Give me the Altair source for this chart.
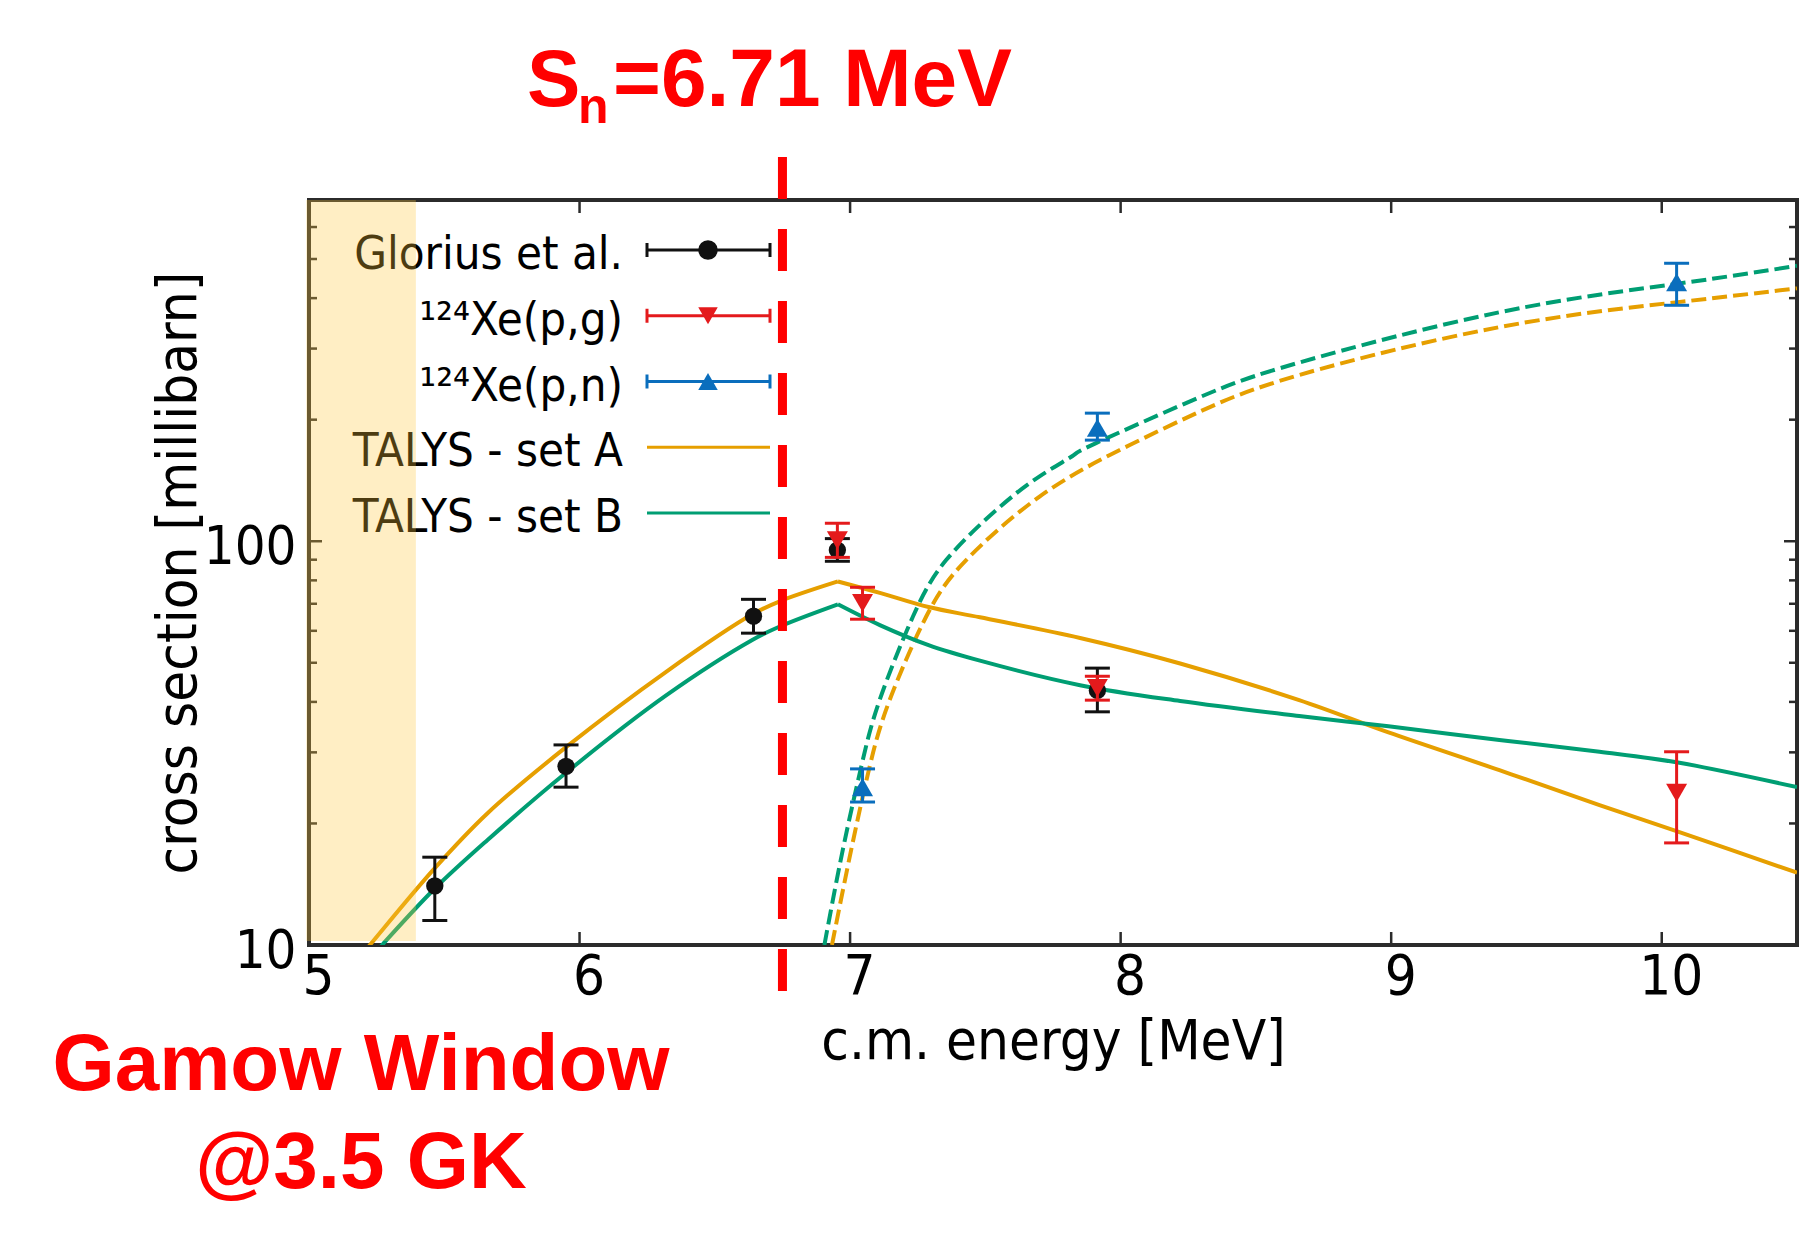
import altair as alt
import pandas as pd

# ---------------- data ----------------
# Glorius et al.
glorius_E = [5.465, 5.95, 6.643, 6.953, 7.914]
glorius_xs = [14.0, 27.7, 65.2, 95.1, 42.7]
glorius_lo = [11.5, 24.6, 59.2, 89.2, 37.8]
glorius_hi = [16.5, 31.3, 71.8, 101.5, 48.5]

# 124Xe(p,g)
pg_E = [6.953, 7.046, 7.914, 10.055]
pg_xs = [100.5, 70.3, 43.3, 23.8]
pg_lo = [91.2, 64.1, 40.4, 17.9]
pg_hi = [110.8, 76.9, 46.3, 30.1]

# 124Xe(p,n)
pn_E = [7.046, 7.914, 10.055]
pn_xs = [24.6, 191.0, 438.0]
pn_lo = [22.6, 178.0, 384.0]
pn_hi = [27.3, 207.6, 488.0]

# TALYS set A, (p,g) solid
setA_pg_E = [5.15, 5.225, 5.465, 5.66, 5.95, 6.32, 6.64, 6.74, 6.955, 7.11, 7.29, 7.48,
             7.85, 8.22, 8.66, 8.99, 9.40, 9.77, 10.06, 10.5]
setA_pg_xs = [8.7, 10.0, 15.5, 21.2, 30.9, 47.5, 66.0, 71.0, 79.5, 74.5, 68.7, 64.8,
              57.6, 49.8, 40.4, 33.6, 27.1, 22.2, 19.1, 15.1]
# TALYS set B, (p,g) solid
setB_pg_E = [5.19, 5.27, 5.465, 5.66, 5.95, 6.32, 6.64, 6.74, 6.955, 7.11, 7.29, 7.48,
             7.85, 8.22, 8.66, 8.99, 9.40, 9.77, 10.06, 10.5]
setB_pg_xs = [8.7, 10.0, 13.8, 18.2, 26.7, 41.5, 57.0, 61.5, 69.8, 62.0, 55.3, 50.6,
              44.0, 40.2, 36.9, 34.8, 32.2, 30.1, 28.3, 24.6]
# TALYS set A, (p,n) dashed
setA_pn_E = [6.933, 7.004, 7.072, 7.146, 7.281, 7.429, 7.699, 7.995, 8.29, 8.66, 9.40, 10.06, 10.5]
setA_pn_xs = [10.0, 17.2, 27.6, 40.4, 65.0, 89.8, 128.8, 168.0, 209.0, 258.0, 339.0, 391.0, 423.0]
# TALYS set B, (p,n) dashed
setB_pn_E = [6.905, 6.973, 7.041, 7.109, 7.232, 7.355, 7.54, 7.699, 7.822, 7.909, 8.29, 8.66,
             9.40, 10.06, 10.5]
setB_pn_xs = [10.0, 17.2, 27.6, 40.4, 65.0, 89.8, 119.4, 144.6, 162.6, 175.0, 227.0, 277.0,
              369.0, 434.5, 481.0]

# axis ticks
x_ticks = [5, 6, 7, 8, 9, 10]
y_major = [10, 100]
y_minor = [20, 30, 40, 50, 60, 70, 80, 90, 200, 300, 400, 500, 600]

# Gamow window and S_n marker
gamow_E = [4.99]
gamow_E2 = [5.395]
sn_line_E = [6.75]

legend_labels = ["Glorius et al.", "\u00b9\u00b2\u2074Xe(p,g)", "\u00b9\u00b2\u2074Xe(p,n)",
                 "TALYS - set A", "TALYS - set B"]
sn_parts = ["S", "n", "=6.71 MeV"]
gamow_lines = ["Gamow Window", "@3.5 GK"]

# ---------------- styling ----------------
W, H = 1488, 745
FONT = "DejaVu Sans Condensed, DejaVu Sans"
RED_FONT = "Liberation Sans, Arial, sans-serif"
ORANGE = "#E69F00"
GREEN = "#009E73"
RED = "#E41A1C"
BLUE = "#0A6EBD"
BLACK = "#111111"
FRAME = "#2b2b2b"
ANNOT = "#FF0000"

xscale = alt.Scale(domain=[5, 10.5], nice=False, zero=False)
yscale = alt.Scale(type="log", domain=[10, 700], nice=False)

xaxis = alt.Axis(values=x_ticks, format="d", ticks=False, domain=False, grid=False,
                 labelFont=FONT, labelFontSize=56, labelColor="black", labelPadding=4,
                 labelOffset=9, labelFlush=False,
                 title="c.m. energy [MeV]", titleFont=FONT, titleFontSize=56,
                 titleFontWeight="normal", titleColor="black", titleX=W / 2, titleY=113,
                 titleAlign="center", titleBaseline="alphabetic")
yaxis = alt.Axis(values=y_major, format="d", ticks=False, domain=False, grid=False,
                 labelFont=FONT, labelFontSize=54, labelColor="black", labelPadding=13,
                 labelOffset=6, labelFlush=False,
                 title="cross section [millibarn]", titleFont=FONT, titleFontSize=56,
                 titleFontWeight="normal", titleColor="black", titleX=-114, titleY=H / 2,
                 titleAngle=270, titleAlign="center", titleBaseline="alphabetic")


def X(field="E"):
    return alt.X(f"{field}:Q", scale=xscale, axis=xaxis)


def Y(field="xs"):
    return alt.Y(f"{field}:Q", scale=yscale, axis=yaxis)


layers = []

# inward ticks on all four sides
xt = pd.DataFrame({"E": x_ticks})
for y0, y1 in [(H, H - 13), (0, 13)]:
    layers.append(alt.Chart(xt).mark_rule(color=FRAME, strokeWidth=2.5)
                  .encode(x=X(), y=alt.value(y0), y2=alt.value(y1)))
for vals, L in [(y_major, 13), (y_minor, 8)]:
    df = pd.DataFrame({"xs": vals})
    layers.append(alt.Chart(df).mark_rule(color=FRAME, strokeWidth=2.5)
                  .encode(y=Y(), x=alt.value(0), x2=alt.value(L)))
    layers.append(alt.Chart(df).mark_rule(color=FRAME, strokeWidth=2.5)
                  .encode(y=Y(), x=alt.value(W), x2=alt.value(W - L)))


def curve(E, xs, color, dash=None, interp="catmull-rom"):
    df = pd.DataFrame({"E": E, "xs": xs})
    kw = dict(color=color, strokeWidth=4, interpolate=interp, clip=True)
    if dash:
        kw["strokeDash"] = dash
    return alt.Chart(df).mark_line(**kw).encode(x=X(), y=Y())


def peaked_curve(E, xs, color):
    # the (p,g) curves have a sharp maximum: draw rise and fall as two smooth pieces
    k = xs.index(max(xs))
    return [curve(E[:k + 1], xs[:k + 1], color), curve(E[k:], xs[k:], color)]


layers.append(curve(setA_pn_E, setA_pn_xs, ORANGE, [15, 6], "natural"))
layers.append(curve(setB_pn_E, setB_pn_xs, GREEN, [15, 6], "natural"))
layers += peaked_curve(setA_pg_E, setA_pg_xs, ORANGE)
layers += peaked_curve(setB_pg_E, setB_pg_xs, GREEN)


def errpoints(E, xs, lo, hi, color, shape, size):
    df = pd.DataFrame({"E": E, "xs": xs, "lo": lo, "hi": hi})
    base = alt.Chart(df)
    out = [
        base.mark_rule(color=color, strokeWidth=3).encode(x=X(), y=Y("lo"), y2="hi:Q"),
        base.mark_tick(color=color, orient="horizontal", size=25, thickness=3, opacity=1)
            .encode(x=X(), y=Y("lo")),
        base.mark_tick(color=color, orient="horizontal", size=25, thickness=3, opacity=1)
            .encode(x=X(), y=Y("hi")),
        base.mark_point(shape=shape, filled=True, size=size, color=color, opacity=1)
            .encode(x=X(), y=Y()),
    ]
    return out


layers += errpoints(glorius_E, glorius_xs, glorius_lo, glorius_hi, BLACK, "circle", 300)
layers += errpoints(pg_E, pg_xs, pg_lo, pg_hi, RED, "triangle-down", 440)
layers += errpoints(pn_E, pn_xs, pn_lo, pn_hi, BLUE, "triangle-up", 440)

# legend (drawn as marks, top-left inside the plot)
leg_colors = [BLACK, RED, BLUE, ORANGE, GREEN]
leg_shapes = ["circle", "triangle-down", "triangle-up", None, None]
LEG_TEXT_X, LEG_L, LEG_R, LEG_M = 314, 338, 461, 399
for i, lab in enumerate(legend_labels):
    cy = 50 + 65.75 * i
    d = pd.DataFrame({"label": [lab]})
    layers.append(alt.Chart(d).mark_text(align="right", baseline="alphabetic", font=FONT,
                                         fontSize=47, color="black")
                  .encode(x=alt.value(LEG_TEXT_X), y=alt.value(cy + 19), text="label:N"))
    layers.append(alt.Chart(d).mark_rule(color=leg_colors[i], strokeWidth=3)
                  .encode(x=alt.value(LEG_L), x2=alt.value(LEG_R), y=alt.value(cy), y2=alt.value(cy)))
    if leg_shapes[i]:
        for xx in (LEG_L, LEG_R):
            layers.append(alt.Chart(d).mark_rule(color=leg_colors[i], strokeWidth=3)
                          .encode(x=alt.value(xx), y=alt.value(cy - 7), y2=alt.value(cy + 7)))
        layers.append(alt.Chart(d).mark_point(shape=leg_shapes[i], filled=True, size=380,
                                              color=leg_colors[i], opacity=1)
                      .encode(x=alt.value(LEG_M), y=alt.value(cy)))

# Gamow window band (drawn on top, translucent)
band = pd.DataFrame({"E": gamow_E, "E2": gamow_E2})
layers.append(alt.Chart(band).mark_rect(color="#FFC83C", opacity=0.3)
              .encode(x=X(), x2="E2:Q", y=alt.value(0), y2=alt.value(H - 4)))

# S_n dashed line
sn = pd.DataFrame({"E": sn_line_E})
layers.append(alt.Chart(sn).mark_rule(color=ANNOT, strokeWidth=9, strokeDash=[42, 30])
              .encode(x=X(), y=alt.value(-43), y2=alt.value(791)))

# annotations
ann_specs = [
    (sn_parts[0], 218, -94, 80, "left"),
    (sn_parts[1], 269, -77, 50, "left"),
    (sn_parts[2], 304, -94, 82, "left"),
    (gamow_lines[0], 52, 890, 80, "center"),
    (gamow_lines[1], 52, 988, 80, "center"),
]
for txt, ax, ay, fs, al in ann_specs:
    d = pd.DataFrame({"t": [txt]})
    layers.append(alt.Chart(d).mark_text(align=al, baseline="alphabetic", font=RED_FONT,
                                         fontSize=fs, fontWeight="bold", color=ANNOT)
                  .encode(x=alt.value(ax), y=alt.value(ay), text="t:N"))

chart = (alt.layer(*layers)
         .properties(width=W, height=H,
                     padding={"left": 309, "top": 200, "right": 3, "bottom": 312},
                     autosize=alt.AutoSizeParams(type="none"),
                     background="white")
         .configure_view(stroke=FRAME, strokeWidth=4))

chart.save("out.html", embed_options={"renderer": "svg", "actions": False})
